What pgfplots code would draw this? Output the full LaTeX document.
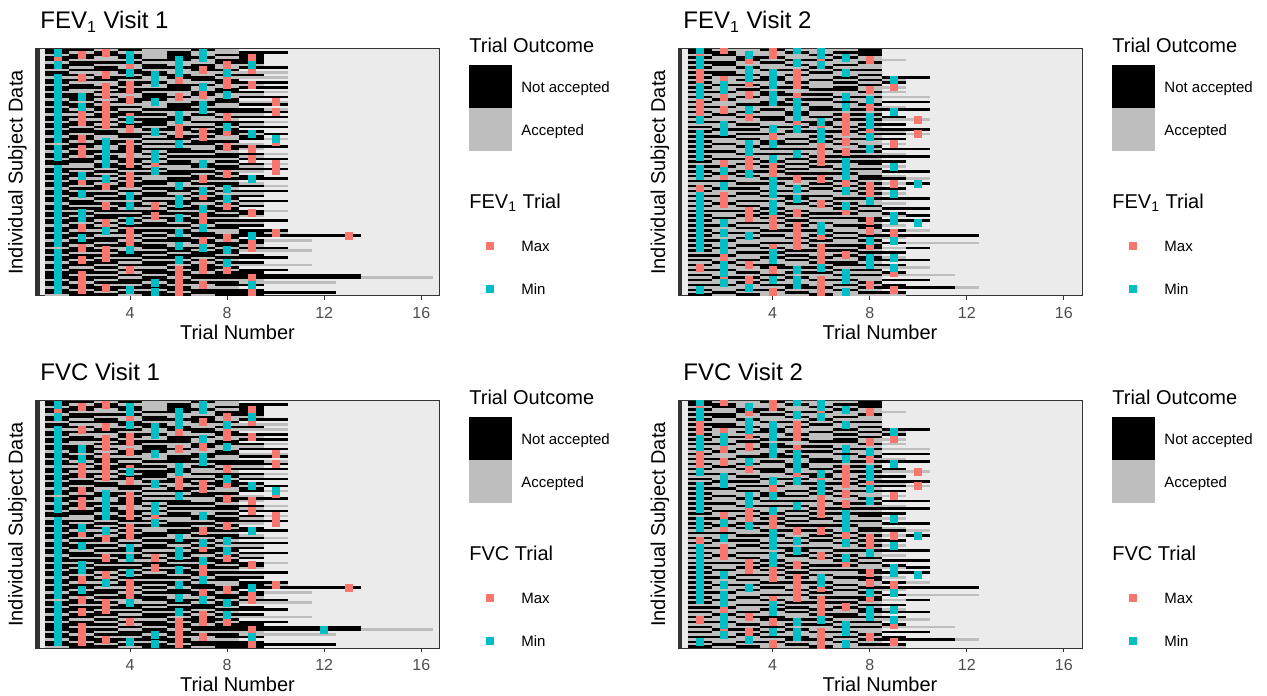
\documentclass[border=0pt]{standalone}
\usepackage{fontspec}
\setmainfont{Liberation Sans}
\usepackage{pgfplots}
\usepackage{pgfplotstable}
\pgfplotsset{compat=1.18}

\definecolor{maxc}{HTML}{F8766D}
\definecolor{minc}{HTML}{00BFC4}
\definecolor{accg}{HTML}{BEBEBE}
\definecolor{panelbg}{HTML}{EBEBEB}
\definecolor{grey20}{HTML}{333333}
\definecolor{grey30}{HTML}{4D4D4D}

% one tile = one trial (1 unit wide) of one subject (1 row high)
\pgfdeclareplotmark{tile}{\pgfpathrectangle{\pgfqpoint{-6.08pt}{-0.635pt}}{\pgfqpoint{12.16pt}{1.27pt}}\pgfusepathqfill}

\pgfplotsset{
  panel/.style={
    scale only axis, width=202pt, height=123.5pt,
    xmin=0.1, xmax=16.75, ymin=-0.5, ymax=99.5, y dir=reverse,
    axis background/.style={fill=panelbg},
    axis line style={grey20, line width=0.5pt},
    xtick={4,8,12,16}, ytick=\empty, xtick pos=left,
    tick align=outside, major tick length=2pt,
    tick style={grey20, line width=0.5pt},
    /pgf/number format/assume math mode=true,
    xticklabel style={font=\fontsize{8}{9}\selectfont, text=grey30},
    xlabel={Trial Number}, ylabel={Individual Subject Data},
    every axis x label/.style={at={([yshift=-18pt]axis description cs:0.5,0)}, anchor=center, font=\fontsize{10}{12}\selectfont},
    every axis y label/.style={at={([xshift=-9pt]axis description cs:0,0.5)}, anchor=center, rotate=90, font=\fontsize{10}{12}\selectfont},
    clip marker paths=true,
  },
  tiles/.style={only marks, mark=tile, restrict y to domain=-1:100},
  maxmark/.style={only marks, mark=square*, mark size=1.75pt, color=maxc, mark options={line width=0.3pt}},
  minmark/.style={only marks, mark=square*, mark size=1.75pt, color=minc, mark options={line width=0.3pt}},
}

% trial outcome per subject (row) and trial (t1..t10): 0 accepted, 1 not accepted, 2 no trial
\pgfplotstableread{
t1 t2 t3 t4 t5 t6 t7 t8 t9 t10
1 1 0 1 0 0 1 0 2 2
1 0 1 0 0 1 0 0 1 1
0 1 1 1 0 1 0 1 1 2
1 1 0 1 0 1 1 0 1 2
1 0 0 0 1 1 0 1 1 2
0 1 1 1 0 0 0 1 1 2
1 1 0 0 1 0 1 0 0 2
1 0 1 0 1 1 1 0 1 1
0 1 1 1 0 0 1 1 2 2
1 0 0 1 1 0 0 0 0 0
1 1 0 0 1 1 0 1 1 2
0 0 1 1 0 1 1 0 0 0
1 1 1 0 0 0 1 1 2 2
1 0 0 1 1 0 0 1 1 1
0 1 0 1 0 1 1 0 0 2
1 1 1 0 0 1 0 0 1 1
1 0 0 1 1 1 0 1 2 2
0 0 1 1 0 0 1 1 1 0
1 1 0 0 1 0 1 0 0 2
1 1 1 0 1 1 0 0 1 1
0 1 0 1 1 0 0 1 2 2
1 0 1 1 0 0 1 1 0 0
1 1 0 0 0 1 1 0 1 1
0 1 1 1 0 1 0 0 2 2
1 0 1 0 1 1 1 1 1 0
1 1 0 1 0 0 0 1 1 1
0 0 1 1 1 0 1 0 0 2
1 1 1 0 0 1 0 1 1 1
1 0 0 1 1 1 0 0 2 2
0 1 1 0 1 0 1 1 1 0
1 1 0 1 1 0 0 1 0 2
1 0 1 1 0 1 1 0 1 1
0 1 0 0 1 1 0 1 2 2
1 1 1 0 0 0 1 1 1 2
1 0 1 1 1 0 0 1 0 1
0 1 0 1 0 1 1 0 1 2
1 1 0 0 1 1 0 0 1 0
1 0 1 1 0 0 1 1 2 2
0 1 1 0 1 1 1 0 0 2
1 1 0 1 0 0 0 1 1 1
1 0 0 1 1 1 0 1 0 2
0 1 1 1 0 1 1 0 2 2
1 1 0 0 1 0 0 1 1 0
1 0 1 0 0 1 1 1 0 2
0 1 1 1 1 0 0 0 1 1
1 1 0 1 0 1 0 1 2 2
1 0 1 0 1 1 1 0 1 0
0 0 1 1 0 0 1 1 0 2
1 1 0 1 1 0 0 1 1 1
1 0 1 0 0 1 1 0 0 2
0 1 0 1 1 1 0 1 2 2
1 1 1 0 0 0 1 0 1 2
1 0 0 1 0 1 1 1 1 1
0 1 1 0 1 1 0 0 2 2
1 1 0 1 1 0 1 1 0 2
1 0 1 1 0 0 0 1 1 0
0 1 1 0 1 1 1 0 2 2
1 0 0 1 0 1 0 1 1 1
1 1 1 0 1 0 1 0 0 2
0 1 0 1 1 1 0 1 1 2
1 0 1 1 0 0 1 1 2 2
1 1 0 0 1 1 1 0 1 1
0 1 1 1 0 1 0 1 0 2
1 0 0 1 1 0 1 0 1 2
1 1 1 0 0 1 1 1 2 2
0 0 1 1 1 0 0 1 1 0
1 1 0 0 1 1 1 0 1 2
1 0 1 1 0 0 1 1 0 2
0 1 1 0 1 1 0 0 2 2
1 1 0 1 0 1 1 1 1 1
1 0 1 0 1 0 1 0 0 2
0 1 0 1 1 1 0 1 1 2
1 1 1 0 0 0 1 1 2 2
1 0 0 1 1 1 0 0 1 1
0 1 1 1 0 1 1 0 1 0
1 1 0 0 1 0 1 1 1 1
1 0 1 1 0 1 0 1 2 2
0 1 1 0 1 1 1 0 1 0
1 1 0 1 0 0 1 1 1 2
1 0 1 1 1 0 0 1 0 2
0 1 0 0 1 1 1 0 1 1
1 1 1 0 0 1 0 1 0 0
1 0 0 1 1 0 1 1 2 2
0 1 1 1 0 1 1 0 1 2
1 1 0 0 1 1 0 1 1 1
1 0 1 1 0 0 1 0 2 2
0 1 1 0 1 1 0 1 1 2
1 1 0 1 1 0 1 0 0 0
1 0 1 0 0 1 1 1 2 2
0 1 0 1 1 0 1 0 1 1
1 1 1 0 1 1 0 1 1 2
1 0 0 1 0 1 1 1 1 1
1 1 1 0 1 0 1 1 1 1
0 1 0 1 1 1 0 0 0 2
1 0 1 1 0 1 1 1 0 0
1 1 0 0 1 0 0 1 1 2
0 1 1 1 1 1 0 0 2 2
1 0 1 0 0 1 1 1 1 2
1 1 0 1 1 0 1 1 1 1
0 1 1 0 1 1 0 1 1 2
}\visitA

\pgfplotstableread{
t1 t2 t3 t4 t5 t6 t7 t8 t9 t10
1 0 0 1 0 0 0 1 2 2
1 1 0 0 1 0 1 1 2 2
0 1 0 0 0 1 0 1 2 2
1 0 1 1 0 0 1 0 2 2
0 0 1 0 1 1 0 0 0 2
1 1 0 1 0 0 0 1 2 2
0 1 0 0 1 0 1 0 2 2
1 0 1 0 0 1 0 0 2 2
0 0 0 1 1 0 1 1 2 2
1 1 0 0 0 1 0 0 2 2
0 1 1 0 1 0 0 1 2 2
1 0 0 1 0 0 1 0 1 1
0 0 1 1 0 1 0 1 0 2
1 0 0 0 1 0 1 0 1 2
0 1 1 0 0 0 0 1 2 2
1 0 0 1 1 0 1 0 0 2
0 0 1 0 0 1 1 0 2 2
1 1 0 1 0 0 0 1 0 2
0 0 0 1 1 1 0 0 2 2
1 0 1 0 0 0 1 1 0 0
0 1 0 0 1 1 0 0 2 2
1 0 0 1 0 0 1 0 1 1
0 0 1 1 1 0 0 1 2 2
1 1 0 0 0 1 0 0 0 2
0 0 0 1 0 1 1 1 1 1
1 0 1 0 1 0 0 0 2 2
0 1 0 0 1 0 1 1 2 2
1 0 1 1 0 1 0 0 1 2
0 0 0 1 0 0 1 1 0 0
1 1 0 0 1 1 0 0 2 2
0 0 1 0 0 1 0 1 1 2
1 0 0 1 1 0 1 0 2 2
0 1 1 0 0 0 0 1 1 1
1 0 0 0 1 1 1 0 0 2
0 0 1 1 0 0 0 1 1 0
1 1 0 0 0 1 0 0 2 2
0 0 1 0 1 0 1 1 1 2
1 0 0 1 0 1 0 0 2 2
0 1 0 1 1 0 1 0 0 2
1 0 1 0 0 0 0 1 2 2
0 0 0 1 1 1 0 0 1 1
1 1 0 0 0 0 1 1 2 2
0 0 1 1 1 0 0 0 0 2
1 0 0 0 0 1 1 1 1 1
0 1 1 0 1 0 0 0 2 2
1 0 0 1 0 1 1 1 1 2
0 0 1 0 1 0 0 1 2 2
1 1 0 1 0 1 0 0 0 2
0 0 0 0 1 0 1 1 2 2
1 0 1 1 0 0 0 0 1 1
0 1 0 0 1 1 1 0 2 2
1 0 1 0 0 0 0 1 0 2
0 0 0 1 1 1 0 1 1 0
1 1 0 0 0 0 1 0 2 2
0 0 1 1 0 1 0 1 0 1
1 0 0 0 1 0 1 0 2 2
0 1 1 0 0 1 0 1 1 2
1 0 0 1 1 0 1 0 2 2
0 0 1 0 0 0 0 1 0 2
1 1 0 1 1 1 0 0 2 2
0 0 0 0 1 0 1 1 1 1
1 0 1 1 0 1 0 0 2 2
0 1 0 0 1 0 1 0 0 2
1 0 1 0 0 1 0 1 2 2
0 0 0 1 0 0 1 0 1 1
1 1 1 0 1 0 0 1 2 2
0 0 0 1 0 1 1 0 1 2
1 0 1 0 1 0 0 0 0 1
0 1 0 1 0 1 1 1 2 2
1 0 0 0 1 0 0 1 1 1
0 0 1 1 0 1 0 0 2 2
1 1 0 0 1 0 1 1 0 2
0 0 1 0 0 0 0 1 2 2
1 0 0 1 1 1 0 0 1 0
0 1 1 0 0 0 1 0 2 2
1 0 0 1 0 1 0 1 1 1
0 0 1 0 1 0 1 0 0 2
1 1 0 0 0 1 0 1 2 2
0 0 0 1 1 0 0 0 1 0
1 0 1 0 0 1 1 1 2 2
0 1 0 1 0 0 0 1 0 1
1 0 0 0 1 1 1 0 2 2
0 0 1 1 0 0 0 1 1 2
1 1 0 0 1 0 1 0 2 2
0 0 0 1 0 1 0 1 0 2
1 0 1 0 1 0 0 1 1 1
0 1 0 0 0 1 1 0 2 2
1 0 1 1 0 0 1 1 1 2
0 0 0 1 1 1 0 0 0 0
1 1 0 0 0 0 1 1 2 2
0 0 1 0 1 1 0 0 1 2
1 0 0 1 0 0 1 1 0 0
0 1 1 0 1 0 0 0 2 2
1 0 0 1 0 1 1 0 1 1
0 0 1 0 0 0 0 1 2 2
1 1 0 1 1 0 1 0 1 2
0 0 0 0 1 1 0 1 1 1
1 0 1 1 0 0 1 0 2 2
0 1 0 0 1 0 0 1 1 2
1 0 1 0 0 1 0 0 0 2
}\visitB

% max / min trial markers: t = trial, r = subject row
\pgfplotstableread[row sep=\\]{t r\\1 4\\1 60\\2 2\\2 11\\2 26\\2 29\\2 36\\2 40\\2 42\\2 53\\2 72\\2 80\\2 85\\2 91\\2 94\\2 97\\
3 1\\3 10\\3 15\\3 18\\3 22\\3 24\\3 27\\3 30\\3 55\\3 63\\3 70\\3 81\\3 84\\3 96\\
4 6\\4 14\\4 16\\4 20\\4 27\\4 32\\4 38\\4 41\\4 44\\4 46\\4 51\\4 54\\4 73\\4 75\\4 78\\4 89\\5 46\\5 63\\5 67\\
6 12\\6 19\\6 31\\6 34\\6 89\\6 92\\6 95\\6 98\\7 8\\7 18\\7 33\\7 35\\7 52\\7 59\\7 67\\7 69\\7 77\\7 86\\7 89\\7 95\\
8 6\\8 12\\8 14\\8 27\\8 33\\8 39\\8 50\\8 63\\8 76\\8 89\\9 3\\9 8\\9 14\\9 40\\9 44\\9 66\\9 78\\9 80\\9 92\\9 98\\
10 21\\10 25\\10 37\\10 46\\10 49\\10 74\\13 75\\}\maxA
\pgfplotstableread[row sep=\\]{t r\\1 1\\1 6\\1 11\\1 13\\1 16\\1 18\\1 21\\1 23\\1 26\\1 28\\1 31\\1 33\\1 36\\1 40\\1 43\\1 48\\1 50\\1 53\\
1 56\\1 58\\1 61\\1 63\\1 66\\1 68\\1 71\\1 73\\1 76\\1 78\\1 82\\1 84\\1 87\\1 89\\1 92\\1 94\\1 97\\
2 19\\2 23\\2 51\\2 58\\2 66\\2 68\\2 76\\3 37\\3 40\\3 43\\3 46\\3 52\\3 73\\4 2\\4 4\\4 9\\4 28\\4 59\\4 63\\4 69\\4 81\\4 97\\
5 10\\5 13\\5 21\\5 33\\5 42\\5 44\\5 49\\5 94\\5 98\\6 4\\6 7\\6 9\\6 26\\6 28\\6 38\\6 55\\6 60\\6 62\\6 68\\6 74\\6 79\\6 85\\
7 1\\7 3\\7 15\\7 22\\7 24\\7 46\\7 57\\7 64\\7 72\\7 80\\8 9\\8 18\\8 31\\8 56\\8 60\\8 81\\8 86\\9 6\\9 34\\9 52\\9 75\\9 95\\10 36\\}\minA
\pgfplotstableread[row sep=\\]{t r\\1 1\\1 9\\1 12\\1 21\\1 24\\1 26\\1 56\\1 88\\2 0\\2 12\\2 19\\2 24\\2 46\\2 51\\2 59\\2 62\\2 84\\2 92\\
3 4\\3 13\\3 18\\3 27\\3 44\\3 47\\3 65\\3 68\\3 87\\3 93\\4 0\\4 2\\4 35\\4 47\\4 50\\4 68\\4 71\\4 80\\4 89\\4 98\\
5 9\\5 11\\5 14\\5 19\\5 29\\5 52\\5 66\\5 71\\5 73\\5 76\\5 79\\6 4\\6 31\\6 39\\6 42\\6 45\\6 52\\6 62\\6 75\\6 80\\6 83\\6 86\\6 93\\6 96\\6 99\\
7 27\\7 30\\7 33\\7 37\\7 41\\7 54\\7 65\\7 83\\8 4\\8 16\\8 23\\8 33\\8 55\\8 58\\8 69\\8 73\\8 79\\8 95\\9 15\\9 38\\9 54\\9 74\\9 90\\9 97\\10 28\\10 34\\}\maxB
\pgfplotstableread[row sep=\\]{t r\\1 0\\1 4\\1 6\\1 15\\1 18\\1 28\\1 34\\1 37\\1 40\\1 43\\1 48\\1 51\\1 59\\1 62\\1 65\\1 68\\1 71\\1 74\\1 77\\1 80\\1 97\\
2 14\\2 16\\2 30\\2 33\\2 49\\2 55\\2 70\\2 74\\2 78\\2 81\\2 87\\2 90\\2 94\\3 2\\3 8\\3 11\\3 24\\3 38\\3 41\\3 50\\3 75\\3 96\\
4 9\\4 12\\4 14\\4 18\\4 21\\4 32\\4 38\\4 44\\4 53\\4 56\\4 58\\4 62\\4 65\\4 82\\4 85\\4 93\\
5 0\\5 5\\5 21\\5 24\\5 27\\5 32\\5 42\\5 56\\5 60\\5 89\\5 93\\5 95\\6 0\\6 2\\6 6\\6 29\\6 33\\6 36\\6 71\\6 73\\6 88\\
7 3\\7 9\\7 19\\7 23\\7 45\\7 48\\7 51\\7 57\\7 63\\7 90\\7 93\\7 98\\8 20\\8 27\\8 30\\8 35\\8 40\\8 61\\8 77\\8 84\\8 87\\
9 12\\9 25\\9 47\\9 58\\9 67\\9 69\\9 77\\9 84\\9 88\\10 54\\10 70\\}\minB

\newcommand\legendblock[2]{%
  \begin{scope}[shift={#1}]
    \node[anchor=base west, inner sep=0, font=\fontsize{10}{12}\selectfont] at (234.5pt,321.4pt) {Trial Outcome};
    \fill[black] (234.5pt,293.5pt) rectangle (256pt,315pt);
    \fill[accg] (234.5pt,272pt) rectangle (256pt,293.5pt);
    \node[anchor=base west, inner sep=0, font=\fontsize{7.5}{9}\selectfont] at (260.5pt,301.3pt) {Not accepted};
    \node[anchor=base west, inner sep=0, font=\fontsize{7.5}{9}\selectfont] at (260.5pt,279.8pt) {Accepted};
    \node[anchor=base west, inner sep=0, font=\fontsize{10}{12}\selectfont] at (234.5pt,243.4pt) {#2 Trial};
    \fill[maxc] (243pt,222.5pt) rectangle (247pt,226.5pt);
    \node[anchor=base west, inner sep=0, font=\fontsize{7.5}{9}\selectfont] at (260.5pt,221.8pt) {Max};
    \fill[minc] (243pt,201pt) rectangle (247pt,205pt);
    \node[anchor=base west, inner sep=0, font=\fontsize{7.5}{9}\selectfont] at (260.5pt,200.3pt) {Min};
  \end{scope}}

\begin{document}
\begin{tikzpicture}
\useasboundingbox (0,0) rectangle (633.5pt,347.5pt);

% ---- FEV1 Visit 1
\begin{axis}[panel, at={(17.75pt,199.5pt)}, anchor=south west]
\pgfplotsinvokeforeach{1,...,10}{
  \addplot[tiles, color=accg] table[x expr=#1, y expr={\thisrow{t#1}==0 ? \coordindex : -50}]{\visitA};
  \addplot[tiles, color=black] table[x expr=#1, y expr={\thisrow{t#1}==1 ? \coordindex : -50}]{\visitA};
}
\addplot[tiles, color=black] coordinates {(11,75) (12,75) (13,75) (11,91) (12,91) (13,91) (11,92) (12,92) (13,92) (11,98) (12,98)};
\addplot[tiles, color=accg] coordinates {(11,77) (11,81) (11,87) (14,92) (15,92) (16,92) (11,94) (12,94)};
\addplot[maxmark] table[x=t, y=r]{\maxA};
\addplot[minmark] table[x=t, y=r]{\minA};
\draw[grey20, line width=2pt] ([xshift=1pt]rel axis cs:0,0) -- ([xshift=1pt]rel axis cs:0,1);
\end{axis}

% ---- FEV1 Visit 2
\begin{axis}[panel, at={(339pt,199.5pt)}, anchor=south west]
\pgfplotsinvokeforeach{1,...,10}{
  \addplot[tiles, color=accg] table[x expr=#1, y expr={\thisrow{t#1}==0 ? \coordindex : -50}]{\visitB};
  \addplot[tiles, color=black] table[x expr=#1, y expr={\thisrow{t#1}==1 ? \coordindex : -50}]{\visitB};
}
\addplot[tiles, color=black] coordinates {(11,75) (12,75) (11,96)};
\addplot[tiles, color=accg] coordinates {(11,78) (12,78) (11,91) (12,96)};
\addplot[maxmark] table[x=t, y=r]{\maxB};
\addplot[minmark] table[x=t, y=r]{\minB};
\draw[grey20, line width=2pt] ([xshift=1pt]rel axis cs:0,0) -- ([xshift=1pt]rel axis cs:0,1);
\end{axis}

% ---- FVC Visit 1
\begin{axis}[panel, at={(17.75pt,23.5pt)}, anchor=south west]
\pgfplotsinvokeforeach{1,...,10}{
  \addplot[tiles, color=accg] table[x expr=#1, y expr={\thisrow{t#1}==0 ? \coordindex : -50}]{\visitA};
  \addplot[tiles, color=black] table[x expr=#1, y expr={\thisrow{t#1}==1 ? \coordindex : -50}]{\visitA};
}
\addplot[tiles, color=black] coordinates {(11,75) (12,75) (13,75) (11,91) (12,91) (13,91) (11,92) (12,92) (13,92) (11,98) (12,98)};
\addplot[tiles, color=accg] coordinates {(11,77) (11,81) (11,87) (14,92) (15,92) (16,92) (11,94) (12,94)};
\addplot[maxmark] table[x=t, y=r]{\maxA};
\addplot[minmark] table[x=t, y=r]{\minA};
\addplot[minmark] coordinates {(12,92)};
\draw[grey20, line width=2pt] ([xshift=1pt]rel axis cs:0,0) -- ([xshift=1pt]rel axis cs:0,1);
\end{axis}

% ---- FVC Visit 2
\begin{axis}[panel, at={(339pt,23.5pt)}, anchor=south west]
\pgfplotsinvokeforeach{1,...,10}{
  \addplot[tiles, color=accg] table[x expr=#1, y expr={\thisrow{t#1}==0 ? \coordindex : -50}]{\visitB};
  \addplot[tiles, color=black] table[x expr=#1, y expr={\thisrow{t#1}==1 ? \coordindex : -50}]{\visitB};
}
\addplot[tiles, color=black] coordinates {(11,75) (12,75) (11,96)};
\addplot[tiles, color=accg] coordinates {(11,78) (12,78) (11,91) (12,96)};
\addplot[maxmark] table[x=t, y=r]{\maxB};
\addplot[minmark] table[x=t, y=r]{\minB};
\draw[grey20, line width=2pt] ([xshift=1pt]rel axis cs:0,0) -- ([xshift=1pt]rel axis cs:0,1);
\end{axis}

% titles
\node[anchor=base west, inner sep=0, font=\fontsize{12}{14}\selectfont] at (20pt,333.2pt) {FEV\textsubscript{1} Visit 1};
\node[anchor=base west, inner sep=0, font=\fontsize{12}{14}\selectfont] at (341.5pt,333.2pt) {FEV\textsubscript{1} Visit 2};
\node[anchor=base west, inner sep=0, font=\fontsize{12}{14}\selectfont] at (20pt,157.2pt) {FVC Visit 1};
\node[anchor=base west, inner sep=0, font=\fontsize{12}{14}\selectfont] at (341.5pt,157.2pt) {FVC Visit 2};

% legends
\legendblock{(0pt,0pt)}{FEV\textsubscript{1}}
\legendblock{(321.5pt,0pt)}{FEV\textsubscript{1}}
\legendblock{(0pt,-176pt)}{FVC}
\legendblock{(321.5pt,-176pt)}{FVC}
\end{tikzpicture}
\end{document}
